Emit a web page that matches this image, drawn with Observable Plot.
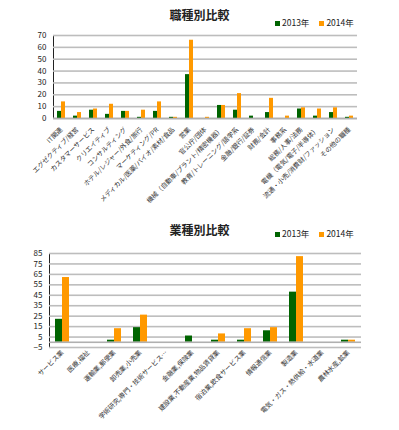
<!DOCTYPE html>
<html><head><meta charset="utf-8">
<script src="https://cdn.jsdelivr.net/npm/d3@7"></script>
<script src="https://cdn.jsdelivr.net/npm/@observablehq/plot@0.6"></script>
<style>
body{margin:0;background:#fff;font-family:"Noto Sans CJK JP",sans-serif;}
#wrap{position:relative;width:399px;height:430px;overflow:hidden;background:#fff}
.title{position:absolute;left:0;width:399px;text-align:center;font-weight:bold;font-size:12px;color:#222;z-index:2}
.legend{position:absolute;font-size:8.5px;color:#222;white-space:nowrap;z-index:2}
.legend span.sw{display:inline-block;width:5px;height:5px;margin-right:2px;vertical-align:0px}
.legend span.item{margin-right:10px}
.chart{position:absolute;left:0}
</style></head><body>
<div id="wrap">
  <div class="title" style="top:6px">職種別比較</div>
  <div class="legend" id="leg1" style="left:275px;top:16px"></div>
  <div class="chart" id="c1" style="top:0"></div>
  <div class="title" style="top:221px">業種別比較</div>
  <div class="legend" id="leg2" style="left:275px;top:227px"></div>
  <div class="chart" id="c2" style="top:215px"></div>
</div>
<script>
const years = ["2013年", "2014年"];
const colors = ["#006400", "#FF9900"];

const jobCategories = ["IT関連", "エグゼクティブ/経営", "カスタマーサービス", "クリエイティブ", "コンサルティング",
  "ホテル/レジャー/外食/旅行", "マーケティング/PR", "メディカル/医薬/バイオ/素材/食品", "営業", "官公庁/団体",
  "機械（自動車/プラント/精密機器）", "教育/トレーニング/語学系", "金融/銀行/証券", "財務/会計", "事務系",
  "総務/人事/法務", "電機（電気/電子/半導体）", "流通・小売/消費財/ファッション", "その他の職種"];
const job2013 = [6, 2, 7, 3.5, 6, 1, 6, 1, 37, 0, 11, 7, 2, 5, 0, 8, 2, 5, 1];
const job2014 = [14, 5, 8, 12, 6, 7, 14, 1, 66, 1, 11, 21, 0, 17, 2, 9, 8, 9, 2];
const jobTicks = [0, 10, 20, 30, 40, 50, 60, 70];

const industryCategories = ["サービス業", "医療,福祉", "運輸業,郵便業", "卸売業,小売業", "学術研究,専門・技術サービス…",
  "金融業,保険業", "建設業,不動産業,物品賃貸業", "宿泊業,飲食サービス業", "情報通信業", "製造業",
  "電気・ガス・熱供給・水道業", "農林水産,鉱業"];
const ind2013 = [22, 0, 2, 14, 0, 6, 2, 2, 11, 48, 0, 2];
const ind2014 = [62, 0, 13, 26, 0, 0, 8, 13, 14, 82, 0, 2];
const industryTicks = [-5, 5, 15, 25, 35, 45, 55, 65, 75, 85];

function toRows(cats, a, b) {
  return cats.flatMap((c, i) => [
    {cat: c, year: years[0], v: a[i]},
    {cat: c, year: years[1], v: b[i]}
  ]);
}

function legend(el) {
  el.innerHTML = years.map((y, i) =>
    `<span class="item"><span class="sw" style="background:${colors[i]}"></span>${y}</span>`).join("");
}
legend(document.getElementById("leg1"));
legend(document.getElementById("leg2"));

function chart({cats, a, b, yDomain, yTicks, height, mt, mb, ml, mr, pad}) {
  const data = toRows(cats, a, b);
  return Plot.plot({
    width: 399, height,
    marginTop: mt, marginBottom: mb, marginLeft: ml, marginRight: mr,
    style: {fontFamily: "'Noto Sans CJK JP', sans-serif", fontSize: "8px", background: "transparent", color: "#222"},
    fx: {domain: cats, padding: 0, label: null},
    x: {domain: years, paddingInner: 0, paddingOuter: 0.67, axis: null},
    y: {domain: yDomain, ticks: yTicks, tickSize: 0, tickPadding: 7, label: null, line: true},
    color: {domain: years, range: colors},
    marks: [
      Plot.gridY(yTicks, {stroke: "#bdbdbd", strokeOpacity: 1, strokeWidth: 1.6}),
      Plot.barY(data, {fx: "cat", x: "year", y: "v", fill: "year"}),
      Plot.ruleY([0], {stroke: "#b0b0b0", strokeWidth: 1.6}),
      Plot.axisFx({anchor: "bottom", tickRotate: -45, tickSize: 0, tickPadding: pad, fontSize: 6.6, fill: "#333", label: null})
    ]
  });
}

document.getElementById("c1").append(chart({
  cats: jobCategories, a: job2013, b: job2014,
  yDomain: [0, 70], yTicks: jobTicks, height: 215, mt: 35, mb: 97, ml: 48, mr: 37, pad: 10
}));
document.getElementById("c2").append(chart({
  cats: industryCategories, a: ind2013, b: ind2014,
  yDomain: [-5, 85], yTicks: industryTicks, height: 215, mt: 38, mb: 83, ml: 48, mr: 38, pad: 4
}));
</script>
</body></html>
